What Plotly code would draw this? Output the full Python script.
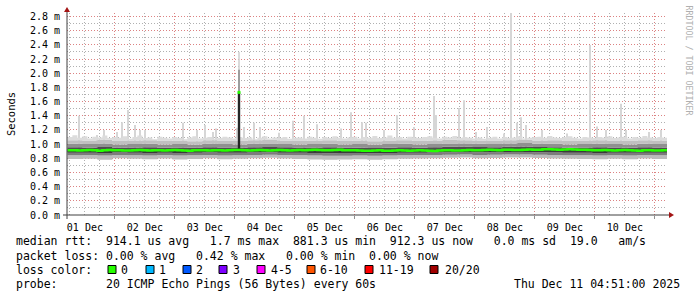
import pandas as pd
import plotly.graph_objects as go

# ---------------- data (values in microseconds) ----------------
start_2h = "2025-12-01 05:00"
median_us = [912, 915, 910, 913, 916, 912, 908, 914, 917, 913,
             915, 911, 909, 914, 918, 912, 910, 915, 913, 909, 912, 916,
             914, 911, 908, 912, 915, 913, 910, 912, 914, 911, 913, 916,
             918, 914, 911, 913, 916, 912, 910, 914, 917, 913, 911, 915,
             916, 913, 918, 920, 917, 914, 912, 916, 919, 915, 912, 914,
             910, 907, 905, 909, 912, 908, 906, 910, 913, 909, 907, 911,
             912, 909, 906, 904, 910, 913, 915, 911, 909, 912, 916, 914,
             915, 918, 921, 917, 914, 919, 922, 918, 916, 920, 923, 919,
             922, 926, 929, 925, 921, 924, 927, 923, 919, 921, 918, 915,
             913, 916, 912, 909, 914, 917, 912, 910, 908, 913, 915, 911, 909, 912]
top_us = [1100, 1125, 1090, 1110, 1080, 1105, 1095, 1120, 1085, 1100,
          1090, 1110, 1075, 1100, 1120, 1085, 1095, 1070, 1105, 1090, 1080, 1100,
          1085, 1070, 1095, 1110, 1080, 1090, 1100, 1075, 1085, 1105, 1095, 1080,
          1100, 1085, 1095, 1070, 1090, 1110, 1080, 1095, 1085, 1100, 1075, 1090,
          1095, 1080, 1105, 1090, 1075, 1100, 1085, 1110, 1090, 1080, 1095, 1105,
          1080, 1100, 1090, 1115, 1085, 1095, 1120, 1090, 1100, 1080, 1105, 1095,
          1085, 1100, 1110, 1090, 1080, 1105, 1095, 1115, 1085, 1100, 1090, 1080,
          1095, 1075, 1090, 1105, 1080, 1100, 1085, 1095, 1110, 1080, 1090, 1100,
          1105, 1090, 1115, 1095, 1085, 1100, 1110, 1090, 1080, 1100, 1095, 1085,
          1100, 1090, 1110, 1085, 1095, 1105, 1080, 1100, 1090, 1115, 1095, 1085, 1100, 1090]

start_6h = "2025-12-01 05:00"
hi3_us = [1055, 1050, 1060, 1045, 1050, 1055, 1045, 1050, 1040, 1055, 1050, 1045, 1055, 1060,
          1050, 1045, 1050, 1055, 1045, 1050, 1040, 1050, 1055, 1045, 1050, 1060, 1055, 1050,
          1045, 1055, 1060, 1050, 1055, 1045, 1050, 1055, 1050, 1045, 1055, 1050]
hi2_us = [1005, 1000, 1010, 995, 1000, 1005, 995, 1000, 990, 1005, 1000, 995, 1005, 1010,
          1000, 995, 1000, 1005, 995, 1000, 990, 1000, 1005, 995, 1000, 1010, 1010, 1005,
          1000, 1010, 1015, 1005, 1005, 995, 1000, 1005, 1000, 995, 1005, 1000]
hi1_us = [955, 952, 958, 950, 953, 956, 950, 954, 948, 956, 953, 950, 957, 960,
          955, 951, 952, 955, 948, 950, 945, 950, 955, 950, 956, 962, 963, 958,
          955, 963, 968, 960, 957, 950, 952, 955, 953, 950, 956, 952]
lo1_us = [878, 880, 875, 882, 878, 876, 880, 874, 878, 881, 877, 879, 882, 884,
          880, 878, 875, 872, 874, 876, 872, 875, 878, 880, 882, 885, 888, 884,
          886, 889, 890, 886, 882, 880, 878, 876, 879, 877, 880, 878]
lo2_us = [842, 845, 838, 848, 843, 840, 846, 838, 842, 847, 841, 844, 848, 850,
          845, 842, 838, 835, 837, 840, 835, 838, 842, 845, 848, 850, 853, 848,
          851, 854, 855, 850, 846, 844, 842, 840, 843, 841, 845, 842]
bot_us = [790, 795, 780, 800, 792, 786, 798, 782, 790, 802, 788, 794, 800, 806,
          796, 790, 784, 778, 782, 788, 780, 786, 792, 798, 802, 806, 810, 800,
          805, 810, 812, 804, 796, 792, 790, 786, 792, 788, 796, 790]

spike_times = ["2025-12-01 09:39", "2025-12-01 16:51", "2025-12-01 19:39", "2025-12-02 00:51",
               "2025-12-02 02:51", "2025-12-02 05:15", "2025-12-02 08:03", "2025-12-02 10:03",
               "2025-12-02 12:03", "2025-12-03 03:15", "2025-12-03 08:51", "2025-12-03 12:03",
               "2025-12-03 15:15", "2025-12-03 16:27", "2025-12-04 00:51", "2025-12-04 03:39",
               "2025-12-04 07:39", "2025-12-04 10:03", "2025-12-04 17:39", "2025-12-04 23:15",
               "2025-12-05 03:39", "2025-12-05 08:51", "2025-12-05 18:27", "2025-12-05 22:27",
               "2025-12-06 02:51", "2025-12-06 04:27", "2025-12-06 11:39", "2025-12-06 16:51",
               "2025-12-06 23:39", "2025-12-07 07:39", "2025-12-07 08:27", "2025-12-07 17:39",
               "2025-12-07 19:39", "2025-12-08 00:27", "2025-12-08 04:51", "2025-12-08 11:39",
               "2025-12-08 14:27", "2025-12-08 16:51", "2025-12-08 18:27", "2025-12-08 20:27",
               "2025-12-09 02:51", "2025-12-09 12:51", "2025-12-09 22:03", "2025-12-10 00:51",
               "2025-12-10 04:27", "2025-12-10 10:27", "2025-12-10 12:27", "2025-12-10 21:39",
               "2025-12-11 02:27"]
spike_us = [1400, 1130, 1200, 1170, 1310, 1480, 1270, 1200,
            1200, 1300, 1200, 1270, 1170, 1220, 1230, 1240,
            1300, 1240, 1160, 1330, 1400, 1280, 1220, 1450,
            1310, 1300, 1200, 1410, 1240, 1680, 1410, 1510,
            1620, 1170, 1240, 1150, 2850, 1300, 1380, 1270,
            1200, 1150, 2400, 1250, 1200, 1570, 1200, 1170,
            1200]

event_time = "2025-12-04 01:39"
event_low_us = 930
event_median_us = 1730
event_high_us = 2050
event_top_us = 2300

y_tick_vals_ms = [0.0, 0.2, 0.4, 0.6, 0.8, 1.0, 1.2, 1.4, 1.6, 1.8, 2.0, 2.2, 2.4, 2.6, 2.8]
y_tick_text = ["%.1f m" % v for v in y_tick_vals_ms]

loss_labels = ["0", "1", "2", "3", "4-5", "6-10", "11-19", "20/20"]
loss_colors = ["#26ff00", "#00b8ff", "#0059ff", "#7e00ff", "#ff00ff", "#ff5500", "#ff0000", "#a10000"]

line1 = "median rtt:  914.1 us avg   1.7 ms max  881.3 us min  912.3 us now   0.0 ms sd  19.0   am/s"
line2 = "packet loss: 0.00 % avg   0.42 % max   0.00 % min  0.00 % now"
line3 = "loss color:"
line4 = "probe:       20 ICMP Echo Pings (56 Bytes) every 60s"
stamp = "Thu Dec 11 04:51:00 2025"
watermark = "RRDTOOL / TOBI OETIKER"

# ---------------- helpers ----------------
W, H = 697, 297
L, R, T, B = 67, 667, 13, 215


def px(x):
    return (x - L) / (R - L)


def py(y):
    return (B - y) / (B - T)


def edges(start, n, freq):
    return pd.date_range(start, periods=n + 1, freq=freq)


def step(vals):
    v = [u * 1e-6 for u in vals]
    return v + [v[-1]]


x2 = edges(start_2h, len(median_us), "2h")
x6 = edges(start_6h, len(hi3_us), "6h")

MONO = "DejaVu Sans Mono"
fig = go.Figure()

# thin max spikes
fig.add_trace(go.Bar(x=pd.to_datetime(spike_times), y=[(s - 950) * 1e-6 for s in spike_us],
                     base=950e-6, width=24 * 60 * 1000, marker_color="#d6d6d6",
                     marker_line_width=0, showlegend=False, hoverinfo="skip"))

bands = [
    (x6, bot_us, None),
    (x6, lo2_us, "#bcbcbc"),
    (x6, lo1_us, "#7c7c7c"),
    (x2, median_us, "#3a3a3a"),
    (x6, hi1_us, "#4e4e4e"),
    (x6, hi2_us, "#909090"),
    (x6, hi3_us, "#c0c0c0"),
    (x2, top_us, "#dcdcdc"),
]
for i, (xx, vals, col) in enumerate(bands):
    fig.add_trace(go.Scatter(x=xx, y=step(vals), mode="lines",
                             line=dict(width=0, shape="hv"),
                             fill=None if col is None else "tonexty",
                             fillcolor=col, showlegend=False, hoverinfo="skip"))

# event at Dec 4
et = pd.to_datetime([event_time, event_time])
fig.add_trace(go.Scatter(x=et, y=[event_median_us * 1e-6, event_top_us * 1e-6], mode="lines",
                         line=dict(color="#cfcfcf", width=1.5), showlegend=False, hoverinfo="skip"))
fig.add_trace(go.Scatter(x=et, y=[event_median_us * 1e-6, event_high_us * 1e-6], mode="lines",
                         line=dict(color="#8a8a8a", width=1.5), showlegend=False, hoverinfo="skip"))
fig.add_trace(go.Scatter(x=et, y=[event_low_us * 1e-6, event_median_us * 1e-6], mode="lines",
                         line=dict(color="#262626", width=2.4), showlegend=False, hoverinfo="skip"))

# median line
fig.add_trace(go.Scatter(x=x2, y=step(median_us), mode="lines",
                         line=dict(color="#26ff00", width=2.5, shape="hv"),
                         showlegend=False, hoverinfo="skip"))
fig.add_trace(go.Scatter(x=pd.to_datetime([event_time]), y=[event_median_us * 1e-6], mode="markers",
                         marker=dict(color="#26ff00", size=3, symbol="square", line_width=0),
                         showlegend=False, hoverinfo="skip"))

MAJ = "#dc8282"
MIN = "#b0b0b0"
DASH = "1px,2px"

fig.update_layout(
    width=W, height=H,
    margin=dict(l=L, r=W - R, t=T, b=H - B, pad=0),
    paper_bgcolor="white", plot_bgcolor="white",
    showlegend=False, barmode="overlay",
    xaxis=dict(type="date", range=["2025-12-01 04:51", "2025-12-11 04:51"],
               tickmode="linear", tick0="2025-12-01", dtick=86400000,
               tickformat="%d %b", ticklabelmode="period",
               showgrid=True, gridcolor=MAJ, griddash=DASH, gridwidth=1,
               ticks="outside", ticklen=3, tickcolor="#909090",
               tickfont=dict(family=MONO, size=10, color="#000000"),
               minor=dict(tick0="2025-12-01", dtick=21600000, showgrid=True,
                          gridcolor=MIN, griddash=DASH, gridwidth=1, ticks=""),
               zeroline=False, showline=False, fixedrange=True, layer="below traces"),
    yaxis=dict(range=[0, 2.85e-3], tickmode="array",
               tickvals=[v * 1e-3 for v in y_tick_vals_ms], ticktext=y_tick_text,
               showgrid=True, gridcolor=MAJ, griddash=DASH, gridwidth=1,
               ticks="outside", ticklen=4, tickcolor="rgba(0,0,0,0)",
               tickfont=dict(family=MONO, size=10, color="#000000"),
               minor=dict(tick0=0, dtick=1e-4, showgrid=True, gridcolor=MIN,
                          griddash=DASH, gridwidth=1, ticks=""),
               title=dict(text="Seconds", standoff=12,
                          font=dict(family=MONO, size=10.5, color="#000000")),
               zeroline=False, showline=False, fixedrange=True),
)

# axes lines and arrows
AX = "#404040"
ARR = "#a31515"
shapes = [
    dict(type="line", xref="paper", yref="paper", x0=px(63), x1=px(670), y0=0, y1=0,
         line=dict(color=AX, width=1)),
    dict(type="line", xref="paper", yref="paper", x0=0, x1=0, y0=py(219), y1=py(11),
         line=dict(color=AX, width=1)),
    dict(type="path", xref="paper", yref="paper",
         path="M %f %f L %f %f L %f %f Z" % (px(674), py(215), px(669), py(212), px(669), py(218)),
         fillcolor=ARR, line=dict(width=0)),
    dict(type="path", xref="paper", yref="paper",
         path="M %f %f L %f %f L %f %f Z" % (px(67), py(7), px(64), py(12), px(70), py(12)),
         fillcolor=ARR, line=dict(width=0)),
]

box_x = [108, 146, 183, 219, 257, 307, 365, 430]
lab_x = [121, 158.5, 196, 233, 270.5, 320, 378.5, 445]
for bx, col in zip(box_x, loss_colors):
    shapes.append(dict(type="rect", xref="paper", yref="paper",
                       x0=px(bx), x1=px(bx + 8), y0=py(273.5), y1=py(265.5),
                       fillcolor=col, line=dict(color="#000000", width=1)))
fig.update_layout(shapes=shapes)

TXT = dict(family=MONO, size=11.5, color="#000000")
ann = []


def add_text(x, y, text, anchor="left", font=TXT, angle=0):
    ann.append(dict(x=px(x), y=py(y), xref="paper", yref="paper", text=text,
                    showarrow=False, xanchor=anchor, yanchor="middle",
                    font=font, textangle=angle, borderpad=0))


add_text(15, 241, line1.replace(" ", "&nbsp;"))
add_text(15, 255.5, line2.replace(" ", "&nbsp;"))
add_text(15, 269.5, line3.replace(" ", "&nbsp;"))
for lx, lab in zip(lab_x, loss_labels):
    add_text(lx - 1, 269.5, lab)
add_text(15, 283.5, line4.replace(" ", "&nbsp;"))
add_text(681, 283.5, stamp.replace(" ", "&nbsp;"), anchor="right")
ann.append(dict(x=px(688.5), y=py(60), xref="paper", yref="paper", text=watermark.replace(" ", "&nbsp;"),
                showarrow=False, xanchor="center", yanchor="middle", textangle=90,
                font=dict(family=MONO, size=8.3, color="#b0b0b0")))
fig.update_layout(annotations=ann)

fig.write_html("out.html")
